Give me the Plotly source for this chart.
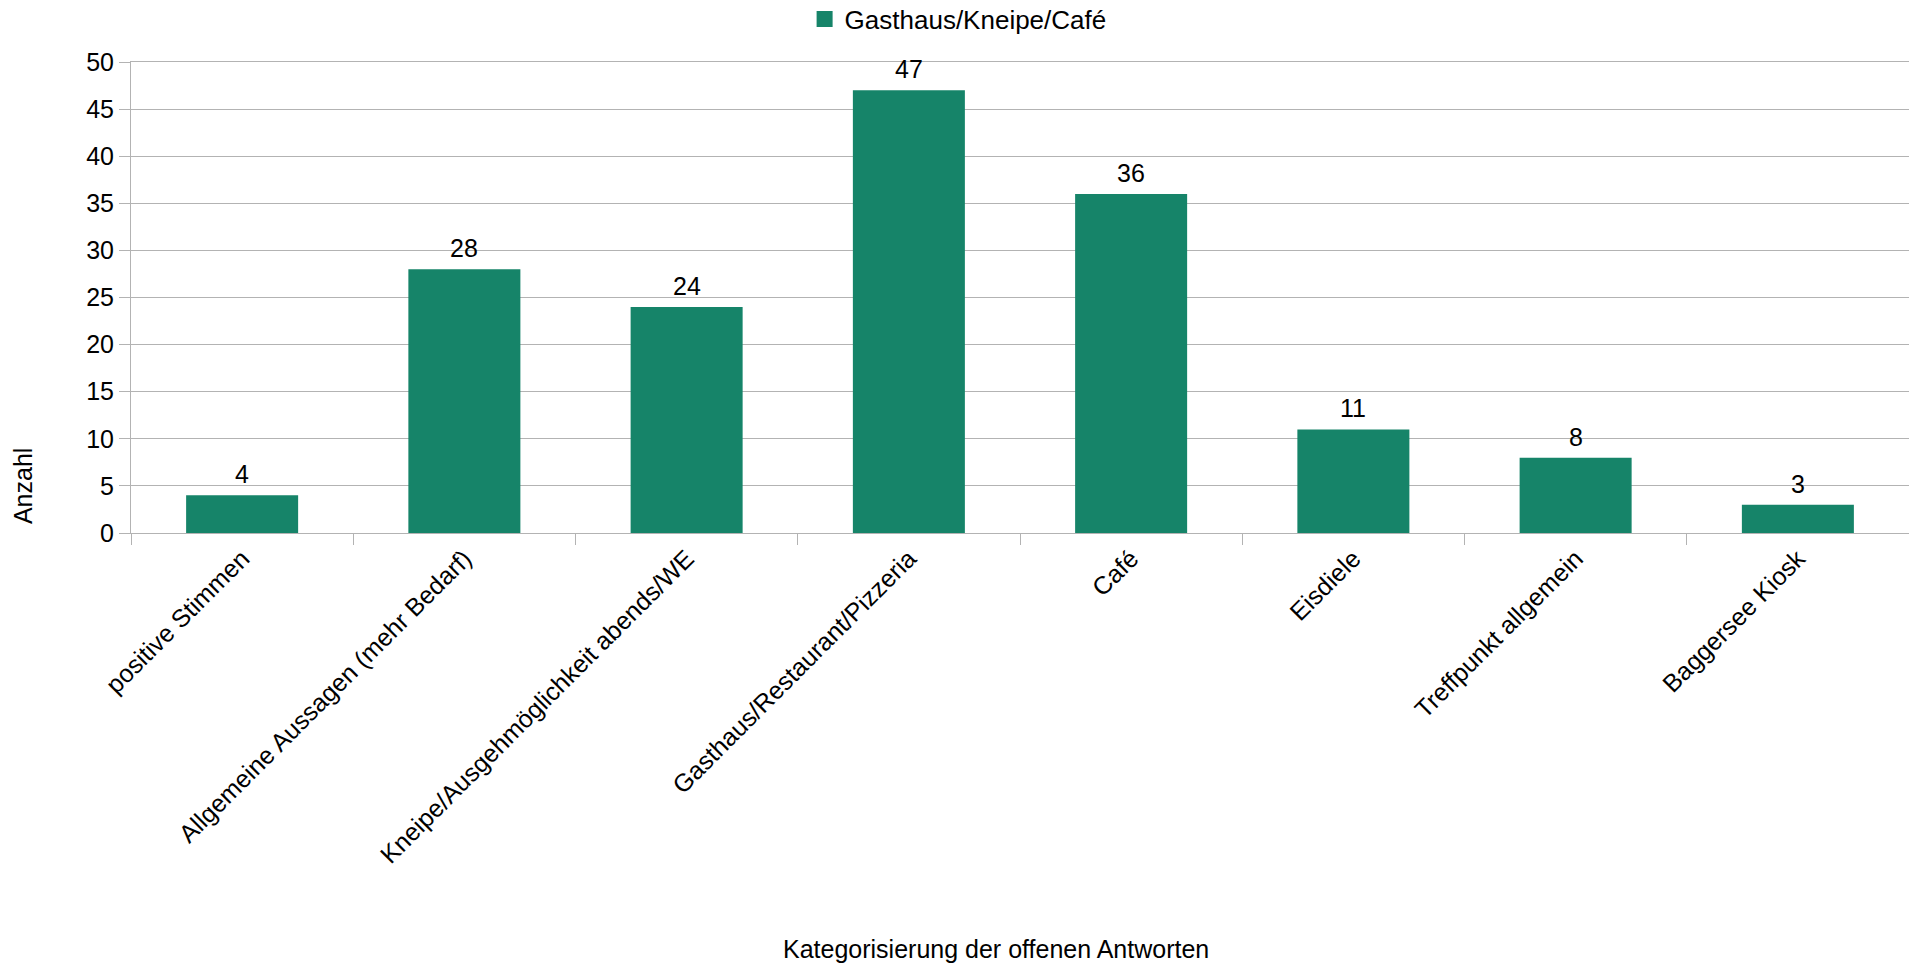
import plotly.graph_objects as go

categories = [
    "positive Stimmen",
    "Allgemeine Aussagen (mehr Bedarf)",
    "Kneipe/Ausgehmöglichkeit abends/WE",
    "Gasthaus/Restaurant/Pizzeria",
    "Café",
    "Eisdiele",
    "Treffpunkt allgemein",
    "Baggersee Kiosk",
]
values = [4, 28, 24, 47, 36, 11, 8, 3]
series_name = "Gasthaus/Kneipe/Café"
y_ticks = [0, 5, 10, 15, 20, 25, 30, 35, 40, 45, 50]
x_title = "Kategorisierung der offenen Antworten"
y_title = "Anzahl"

FONT = "Liberation Sans, Arial, sans-serif"
GRID = "#b3b3b3"
BAR = "#168469"

fig = go.Figure(
    go.Bar(
        x=categories,
        y=values,
        name=series_name,
        marker=dict(color=BAR, line=dict(width=0)),
        showlegend=False,
    )
)
# legend entry with a larger square symbol, as in the reference
fig.add_trace(
    go.Scatter(
        x=[None],
        y=[None],
        mode="markers",
        name=series_name,
        marker=dict(symbol="square", size=16, color=BAR),
        showlegend=True,
    )
)

# data labels above each bar
label_annotations = [
    dict(
        x=c,
        y=v,
        xref="x",
        yref="y",
        text=str(v),
        showarrow=False,
        xanchor="center",
        yanchor="middle",
        yshift=21,
        font=dict(family=FONT, size=25, color="#000000"),
    )
    for c, v in zip(categories, values)
]

fig.update_layout(
    width=1909,
    height=956,
    paper_bgcolor="white",
    plot_bgcolor="white",
    font=dict(family=FONT, size=25, color="#000000"),
    margin=dict(l=123, r=8, t=54, b=431),
    bargap=0.496,
    legend=dict(
        orientation="h",
        xref="container",
        yref="container",
        x=0.4977,
        xanchor="center",
        y=0.9885,
        yanchor="middle",
        font=dict(family=FONT, size=26),
        itemwidth=30,
    ),
    xaxis=dict(
        type="category",
        categoryorder="array",
        categoryarray=categories,
        tickangle=-45,
        tickson="boundaries",
        ticks="outside",
        ticklen=11,
        tickcolor=GRID,
        showline=True,
        linecolor=GRID,
        mirror=True,
        showgrid=False,
        tickfont=dict(family=FONT, size=25),
        automargin=False,
    ),
    yaxis=dict(
        range=[0, 50],
        tickvals=y_ticks,
        ticks="outside",
        ticklen=11,
        tickcolor=GRID,
        showline=True,
        linecolor=GRID,
        mirror=True,
        showgrid=True,
        gridcolor=GRID,
        zeroline=False,
        tickfont=dict(family=FONT, size=25),
        automargin=False,
    ),
    annotations=label_annotations + [
        dict(
            text=x_title,
            xref="paper",
            yref="paper",
            x=0.4865,
            y=-0.883,
            xanchor="center",
            yanchor="middle",
            showarrow=False,
            font=dict(family=FONT, size=25),
        ),
        dict(
            text=y_title,
            xref="paper",
            yref="paper",
            x=-0.0607,
            y=0.0998,
            xanchor="center",
            yanchor="middle",
            textangle=-90,
            showarrow=False,
            font=dict(family=FONT, size=25),
        ),
    ],
)

fig.write_html("out.html")
